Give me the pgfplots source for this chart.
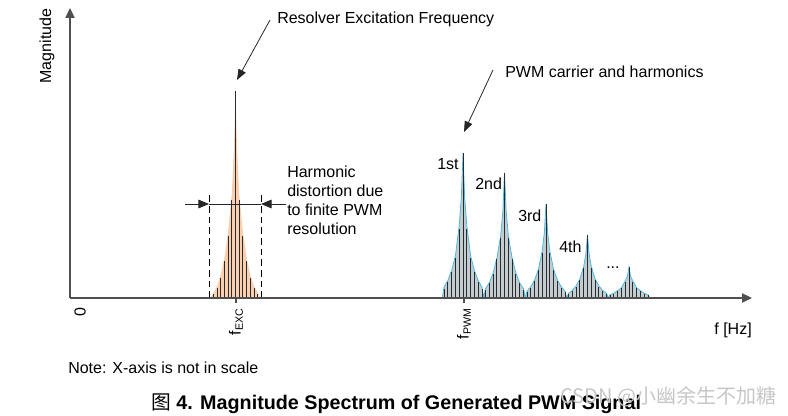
\documentclass[border=0pt]{standalone}
\usepackage{fontspec}
\setmainfont{Liberation Sans}
\newfontfamily\cjk{Noto Sans CJK SC}
\usepackage{pgfplots}
\pgfplotsset{compat=1.18}
\usetikzlibrary{arrows.meta}

\definecolor{peach}{HTML}{F9CFAF}
\definecolor{skyfill}{HTML}{C3CDD1}
\definecolor{skyline}{HTML}{4FB8E0}
\definecolor{axisgray}{HTML}{505050}
\definecolor{bargray}{HTML}{2B2B2B}

\begin{document}
\begin{tikzpicture}[font=\fontsize{12}{14}\selectfont]
\begin{axis}[
  x=0.75pt, y=0.75pt,
  xmin=70, xmax=752, ymin=0, ymax=290,
  enlargelimits=false,
  axis lines=left,
  axis line style={axisgray, line width=0.8pt, -{Triangle[length=7.5pt,width=7pt]}},
  axis on top,
  clip=false,
  xtick={236,464},
  xticklabels={f\textsubscript{EXC}, f\textsubscript{PWM}},
  xticklabel style={rotate=90, anchor=east, font=\fontsize{12}{14}\selectfont},
  ytick=\empty,
  tick align=outside,
  major tick length=4pt,
  tick style={axisgray, line width=0.8pt},
]
% envelopes
\addplot[fill=peach, draw=none] coordinates {
 (210.5,0) (213.3,5) (217,12) (220.7,23) (224.4,40) (228.1,66) (231.8,104) (234,150)
 (235.5,207) (237,150) (239.2,104) (242.9,66) (246.6,40) (250.3,23) (254,12) (257.7,5) (260.5,0)} \closedcycle;
\addplot[fill=skyfill, draw=skyline, line width=0.6pt] coordinates {
 (442.25,0)(444,10.9)(447.8,17.4)(451.6,27.6)(455.4,42)(459.2,72.5)(461.4,101.5)(463,145)(464.6,101.5)(466.8,72.5)(470.6,42)(474.4,27.6)(478.2,17.4)(482,10.9)(483.75,0)
 (485.5,9.4)(489.3,15)(493.1,25)(496.9,40)(500.7,62.5)(502.9,87.5)(504.5,125)(506.1,87.5)(508.3,62.5)(512.1,40)(515.9,25)(519.7,15)(523.5,9.4)(525.25,0)
 (527,7)(530.8,11.3)(534.6,17.9)(538.4,28.5)(542.2,47)(544.4,65.8)(546,94)(547.6,65.8)(549.8,47)(553.6,28.5)(557.4,17.9)(561.2,11.3)(565,7)(566.75,0)
 (568.5,4.7)(572.3,7.6)(576.1,12)(579.9,19)(583.7,31.5)(585.9,44.1)(587.5,63)(589.1,44.1)(591.3,31.5)(595.1,19)(598.9,12)(602.7,7.6)(606.5,4.7)(608.25,0)
 (610,3.2)(613.8,4.8)(617.6,7.2)(621.4,10.3)(625.2,17)(627.4,21.7)(629,31)(630.6,21.7)(632.8,17)(636.6,10.3)(640.4,7.2)(644.2,4.8)(648,3.2)(649.75,0)} \closedcycle;
% spectral lines
\addplot[ycomb, mark=none, color=bargray, line width=0.7pt] coordinates {
 (213.3,4) (217.0,10) (220.7,20) (224.4,37) (228.1,62) (231.8,98) (235.5,207)
 (239.2,98) (242.9,62) (246.6,37) (250.3,20) (254.0,10) (257.7,4)};
\addplot[ycomb, mark=none, color=bargray, line width=0.7pt] coordinates {
 (444,9.4)(447.8,16)(451.6,26.1)(455.4,40)(459.2,69)(463,145)(466.8,69)(470.6,40)(474.4,26.1)(478.2,16)(482,9.4)
 (485.5,8.1)(489.3,14.5)(493.1,24)(496.9,39)(500.7,60)(504.5,125)(508.3,60)(512.1,39)(515.9,24)(519.7,14.5)(523.5,8.1)
 (527,6.1)(530.8,10.3)(534.6,16.9)(538.4,27.5)(542.2,44.7)(546,94)(549.8,44.7)(553.6,27.5)(557.4,16.9)(561.2,10.3)(565,6.1)
 (568.5,4.1)(572.3,6.9)(576.1,11.3)(579.9,18.3)(583.7,30)(587.5,63)(591.3,30)(595.1,18.3)(598.9,11.3)(602.7,6.9)(606.5,4.1)
 (610,2.6)(613.8,4.2)(617.6,6.5)(621.4,9.5)(625.2,16)(629,31)(632.8,16)(636.6,9.5)(640.4,6.5)(644.2,4.2)(648,2.6)};

% distortion band
\draw[black, line width=0.7pt, dash pattern=on 5pt off 3pt] (axis cs:209,0) -- (axis cs:209,105);
\draw[black, line width=0.7pt, dash pattern=on 5pt off 3pt] (axis cs:261,0) -- (axis cs:261,105);
\draw[black!85, line width=0.7pt] (axis cs:209,94) -- (axis cs:261,94);
\draw[black!85, line width=0.7pt, -{Triangle[length=8pt,width=6.5pt]}] (axis cs:185,94) -- (axis cs:209,94);
\draw[black!85, line width=0.7pt, -{Triangle[length=8pt,width=6.5pt]}] (axis cs:286,94) -- (axis cs:261,94);
\node[anchor=north west, align=left, inner sep=0pt, font=\fontsize{12}{14.25}\selectfont]
  at (axis cs:287,132) {Harmonic\\distortion due\\to finite PWM\\resolution};

% annotations
\draw[black!85, line width=0.6pt, -{Triangle[length=8pt,width=6pt]}] (axis cs:270,278) -- (axis cs:237,218);
\node[anchor=west, inner sep=0pt] at (axis cs:277,279) {Resolver Excitation Frequency};
\draw[black!85, line width=0.6pt, -{Triangle[length=8pt,width=6pt]}] (axis cs:493,228) -- (axis cs:464,166);
\node[anchor=west, inner sep=0pt] at (axis cs:505,226) {PWM carrier and harmonics};

\node[anchor=west, inner sep=0pt] at (axis cs:437,134) {1st};
\node[anchor=west, inner sep=0pt] at (axis cs:475,114) {2nd};
\node[anchor=west, inner sep=0pt] at (axis cs:518,82) {3rd};
\node[anchor=west, inner sep=0pt] at (axis cs:559,51) {4th};
\node[anchor=west, inner sep=0pt] at (axis cs:606,30) {...};

% axis texts
\node[rotate=90, inner sep=0pt] at (axis cs:47,252) {Magnitude};
\node[rotate=90, inner sep=0pt] at (axis cs:80,-14) {0};
\node[anchor=east, inner sep=0pt] at (axis cs:752,-32) {f [Hz]};
\node[anchor=west, inner sep=0pt, font=\fontsize{12}{14}\selectfont] at (axis cs:68,-70) {Note: X-axis is not in scale};
\node[anchor=west, inner sep=0pt, font=\bfseries\fontsize{14.8}{17}\selectfont]
  at (axis cs:151,-106) {{\cjk\mdseries 图} 4. Magnitude Spectrum of Generated PWM Signal};
\node[anchor=west, inner sep=0pt, text=gray!45, font=\cjk\fontsize{15}{17}\selectfont]
  at (axis cs:560,-99) {CSDN @小幽余生不加糖};

\coordinate (bl) at (axis cs:0,-118);
\coordinate (tr) at (axis cs:788,298);
\end{axis}
\pgfresetboundingbox
\path (bl) rectangle (tr);
\end{tikzpicture}
\end{document}
